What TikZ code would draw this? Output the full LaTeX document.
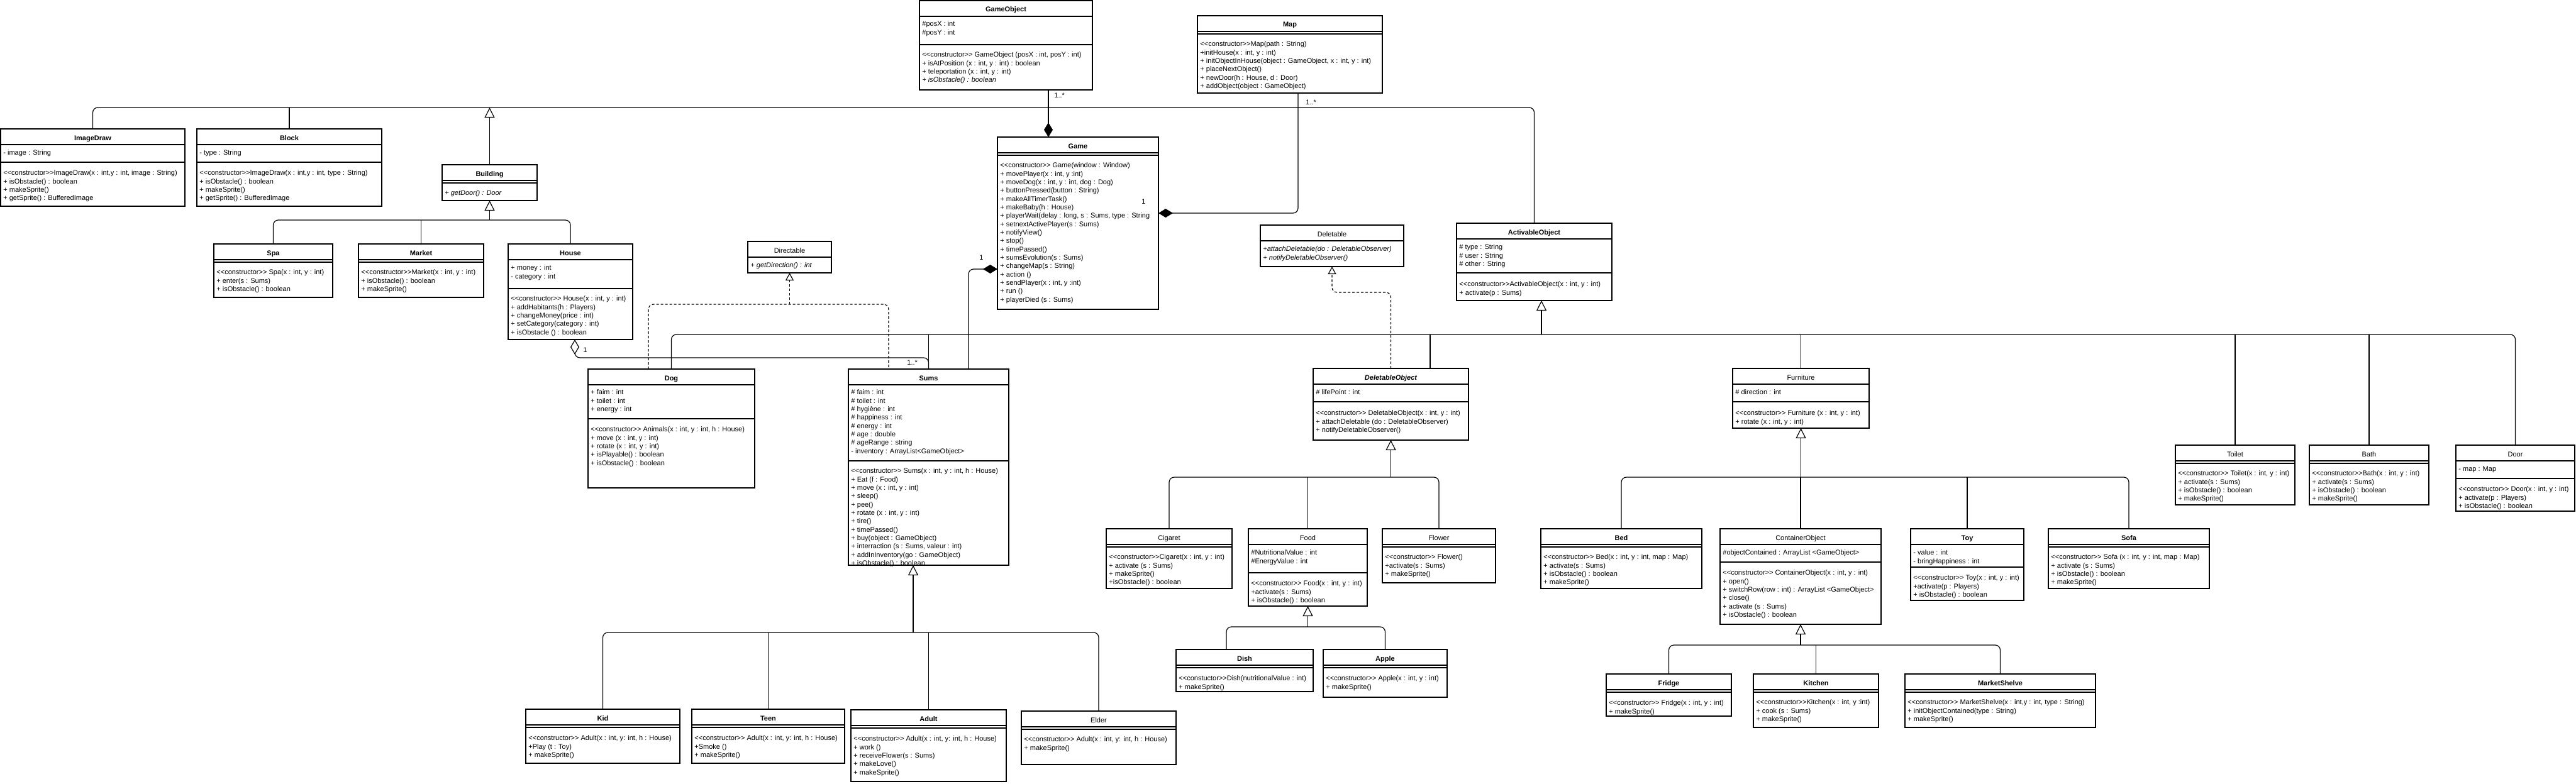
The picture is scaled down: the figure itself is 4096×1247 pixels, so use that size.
\documentclass[tikz,border=0pt]{standalone}
\usepackage{fontspec}
\setmainfont{Liberation Sans}
\usetikzlibrary{arrows.meta}
\newcommand\ctor{<\kern0pt<constructor>\kern0pt>}
\newcommand\dv[2]{\draw[divst] ([yshift={-(#2)*0.5pt}]#1.north west) -- ([yshift={-(#2)*0.5pt}]#1.north east);}
\newcommand\dd[1]{\dv{#1}{29}}
\newcommand\ubox[6]{%
  \node[boxst, minimum width={(#4-#2)*0.5pt}, minimum height={(#5-#3)*0.5pt}] (#1) at (#2,#3) {};
  \node[ttl] (#1-t) at ({(#2+#4)/2},{#3+18}) {#6};
  \dv{#1}{25}}
\tikzset{
  boxst/.style={draw, line width=0.8pt, anchor=north west, inner sep=0pt, outer sep=0pt, fill=white},
  divst/.style={line width=0.8pt},
  ttl/.style={anchor=base, inner sep=0pt, font=\bfseries\fontsize{5.5pt}{6.67pt}\selectfont},
  txt/.style={anchor=north west, inner sep=0pt, align=left, font=\fontsize{5.5pt}{6.67pt}\selectfont},
  lbl/.style={anchor=west, inner sep=0pt, font=\fontsize{5.5pt}{6.67pt}\selectfont},
  conn/.style={line width=0.6pt, rounded corners=4pt},
  inh/.style={conn, -{Triangle[open, length=8pt, width=8pt, fill=white]}},
  real/.style={conn, dash pattern=on 2pt off 1.5pt, -{Triangle[open, length=6pt, width=6.5pt, fill=white]}},
  dashln/.style={conn, dash pattern=on 2pt off 1.5pt},
  comp/.style={conn, -{Diamond[length=11.5pt, width=7pt]}},
  aggr/.style={conn, {Diamond[open, length=12pt, width=7pt, fill=white]}-},
}
\begin{document}
\begin{tikzpicture}[x=0.5pt, y=-0.5pt]
\useasboundingbox[fill=white] (0,0) rectangle (4096,1247);
% helper coordinates
\coordinate (yA) at (0,171);
\coordinate (yB) at (0,532);
\coordinate (yC) at (0,759);
\coordinate (yE) at (0,997);
\coordinate (yF) at (0,1026);
\coordinate (yG) at (0,1006);
\coordinate (yH) at (0,350);
\coordinate (yHS) at (0,569);
\coordinate (yD1) at (0,484);
\coordinate (yD2) at (0,465);
\coordinate (yGM) at (0,339);
\coordinate (ySG) at (0,428);
\coordinate (x1667) at (1667,0);
\coordinate (x2064) at (2064,0);
\coordinate (x1540) at (1540,0);
\coordinate (x914) at (914,0);
\coordinate (x1031) at (1031,0);
\coordinate (x1413) at (1413,0);
\coordinate (x2274) at (2274,0);
\coordinate (x2451) at (2451,0);
\coordinate (x1452) at (1452,0);
\coordinate (x1950) at (1950,0);

% ================= classes =================
% ImageDraw
\ubox{imagedraw}{1}{205}{294}{328}{ImageDraw}
\dv{imagedraw}{53}
\node[txt] (imagedraw-a) at (5,237) {\strut- image : String};
\node[txt] (imagedraw-m) at (5,269) {\strut\ctor ImageDraw(x : int,y : int, image : String)\\+ isObstacle() : boolean\\+ makeSprite()\\+ getSprite() : BufferedImage};
% Block
\ubox{block}{313}{205}{607}{328}{Block}
\dv{block}{53}
\node[txt] (block-a) at (317,237) {\strut- type : String};
\node[txt] (block-m) at (317,269) {\strut\ctor ImageDraw(x : int,y : int, type : String)\\+ isObstacle() : boolean\\+ makeSprite()\\+ getSprite() : BufferedImage};
% Building
\ubox{building}{703}{262}{854}{319}{Building}
\dd{building}
\node[txt] (building-m) at (707,301) {\strut\itshape + getDoor() : Door};
% Spa
\ubox{spa}{340}{388}{529}{473}{Spa}
\dd{spa}
\node[txt] (spa-m) at (344,427) {\strut\ctor{} Spa(x : int, y : int)\\+ enter(s : Sums)\\+ isObstacle() : boolean};
% Market
\ubox{market}{570}{388}{769}{473}{Market}
\dd{market}
\node[txt] (market-m) at (574,427) {\strut\ctor Market(x : int, y : int)\\+ isObstacle() : boolean\\+ makeSprite()};
% House
\ubox{house}{808}{388}{1006}{540}{House}
\dv{house}{71}
\node[txt] (house-a) at (812,420) {\strut+ money : int\\- category : int};
\node[txt] (house-m) at (812,469) {\strut\ctor{} House(x : int, y : int)\\+ addHabitants(h : Players)\\+ changeMoney(price : int)\\+ setCategory(category : int)\\+ isObstacle () : boolean};
% GameObject
\ubox{gameobject}{1462}{1}{1737}{143}{GameObject}
\dv{gameobject}{70}
\node[txt] (gameobject-a) at (1466,32) {\strut\#posX : int\\\#posY : int};
\node[txt] (gameobject-m) at (1466,81) {\strut\ctor{} GameObject (posX : int, posY : int)\\+ isAtPosition (x : int, y : int) : boolean\\+ teleportation (x : int, y : int)\\\textit{+ isObstacle() : boolean}};
% Map
\ubox{map}{1904}{25}{2198}{148}{Map}
\dd{map}
\node[txt] (map-m) at (1908,64) {\strut\ctor Map(path : String)\\+initHouse(x : int, y : int)\\+ initObjectInHouse(object : GameObject, x : int, y : int)\\+ placeNextObject()\\+ newDoor(h : House, d : Door)\\+ addObject(object : GameObject)};
% Game
\ubox{game}{1586}{218}{1842}{492}{Game}
\dd{game}
\node[txt] (game-m) at (1590,257) {\strut\ctor{} Game(window : Window)\\+ movePlayer(x : int, y :int)\\+ moveDog(x : int, y : int, dog : Dog)\\+ buttonPressed(button : String)\\+ makeAllTimerTask()\\+ makeBaby(h : House)\\+ playerWait(delay : long, s : Sums, type : String\\+ setnextActivePlayer(s : Sums)\\+ notifyView()\\+ stop()\\+ timePassed()\\+ sumsEvolution(s : Sums)\\+ changeMap(s : String)\\+ action ()\\+ sendPlayer(x : int, y :int)\\+ run ()\\+ playerDied (s : Sums)};
% Directable
\ubox{directable}{1189}{384}{1322}{434}{\mdseries Directable}
\node[txt] (directable-m) at (1193,416) {\strut\itshape + getDirection() : int};
% Deletable
\ubox{deletable}{2004}{358}{2232}{424}{\mdseries Deletable}
\node[txt] (deletable-m) at (2008,390) {\strut\itshape +attachDeletable(do : DeletableObserver)\\\itshape + notifyDeletableObserver()};
% ActivableObject
\ubox{activable}{2316}{355}{2563}{478}{ActivableObject}
\dv{activable}{79}
\node[txt] (activable-a) at (2320,387) {\strut\# type : String\\\# user : String\\\# other : String};
\node[txt] (activable-m) at (2320,446) {\strut\ctor ActivableObject(x : int, y : int)\\+ activate(p : Sums)};
% Dog
\ubox{dog}{935}{587}{1200}{776}{Dog}
\dv{dog}{79}
\node[txt] (dog-a) at (939,618) {\strut+ faim : int\\+ toilet : int\\+ energy : int};
\node[txt] (dog-m) at (939,677) {\strut\ctor{} Animals(x : int, y : int, h : House)\\+ move (x : int, y : int)\\+ rotate (x : int, y : int)\\+ isPlayable() : boolean\\+ isObstacle() : boolean};
% Sums
\ubox{sums}{1349}{587}{1604}{899}{Sums}
\dv{sums}{146}
\node[txt] (sums-a) at (1353,618) {\strut\# faim : int\\\# toilet : int\\\# hygiène : int\\\# happiness : int\\\# energy : int\\\# age : double\\\# ageRange : string\\- inventory : ArrayList<GameObject>};
\node[txt] (sums-m) at (1353,743) {\strut\ctor{} Sums(x : int, y : int, h : House)\\+ Eat (f : Food)\\+ move (x : int, y : int)\\+ sleep()\\+ pee()\\+ rotate (x : int, y : int)\\+ tire()\\+ timePassed()\\+ buy(object : GameObject)\\+ interraction (s : Sums, valeur : int)\\+ addInInventory(go : GameObject)\\+ isObstacle() : boolean};
% DeletableObject
\ubox{deletableobject}{2088}{586}{2335}{700}{\itshape DeletableObject}
\dv{deletableobject}{53}
\node[txt] (deletableobject-a) at (2092,618) {\strut\# lifePoint : int};
\node[txt] (deletableobject-m) at (2092,651) {\strut\ctor{} DeletableObject(x : int, y : int)\\+ attachDeletable (do : DeletableObserver)\\+ notifyDeletableObserver()};
% Furniture
\ubox{furniture}{2755}{586}{2972}{681}{\mdseries Furniture}
\dv{furniture}{53}
\node[txt] (furniture-a) at (2759,618) {\strut\# direction : int};
\node[txt] (furniture-m) at (2759,651) {\strut\ctor{} Furniture (x : int, y : int)\\+ rotate (x : int, y : int)};
% Toilet
\ubox{toilet}{3459}{708}{3649}{803}{\mdseries Toilet}
\dd{toilet}
\node[txt] (toilet-m) at (3463,747) {\strut\ctor{} Toilet(x : int, y : int)\\+ activate(s : Sums)\\+ isObstacle() : boolean\\+ makeSprite()};
% Bath
\ubox{bath}{3672}{708}{3862}{803}{\mdseries Bath}
\dd{bath}
\node[txt] (bath-m) at (3676,747) {\strut\ctor Bath(x : int, y : int)\\+ activate(s : Sums)\\+ isObstacle() : boolean\\+ makeSprite()};
% Door
\ubox{door}{3905}{708}{4094}{813}{\mdseries Door}
\dv{door}{53}
\node[txt] (door-a) at (3909,740) {\strut- map : Map};
\node[txt] (door-m) at (3909,772) {\strut\ctor{} Door(x : int, y : int)\\+ activate(p : Players)\\+ isObstacle() : boolean};
% Cigaret
\ubox{cigaret}{1759}{841}{1959}{936}{\mdseries Cigaret}
\dd{cigaret}
\node[txt] (cigaret-m) at (1763,880) {\strut\ctor Cigaret(x : int, y : int)\\+ activate (s : Sums)\\+ makeSprite()\\+isObstacle() : boolean};
% Food
\ubox{food}{1985}{841}{2174}{964}{\mdseries Food}
\dv{food}{70}
\node[txt] (food-a) at (1989,873) {\strut\#NutritionalValue : int\\\#EnergyValue : int};
\node[txt] (food-m) at (1989,922) {\strut\ctor{} Food(x : int, y : int)\\+activate(s : Sums)\\+ isObstacle() : boolean};
% Flower
\ubox{flower}{2198}{841}{2378}{927}{\mdseries Flower}
\dd{flower}
\node[txt] (flower-m) at (2202,880) {\strut\ctor{} Flower()\\+activate(s : Sums)\\+ makeSprite()};
% Bed
\ubox{bed}{2450}{841}{2706}{936}{Bed}
\dd{bed}
\node[txt] (bed-m) at (2454,880) {\strut\ctor{} Bed(x : int, y : int, map : Map)\\+ activate(s : Sums)\\+ isObstacle() : boolean\\+ makeSprite()};
% ContainerObject
\ubox{container}{2735}{841}{2991}{993}{\mdseries ContainerObject}
\dv{container}{53}
\node[txt] (container-a) at (2739,873) {\strut\#objectContained : ArrayList <GameObject>};
\node[txt] (container-m) at (2739,905) {\strut\ctor{} ContainerObject(x : int, y : int)\\+ open()\\+ switchRow(row : int) : ArrayList <GameObject>\\+ close()\\+ activate (s : Sums)\\+ isObstacle() : boolean};
% Toy
\ubox{toy}{3038}{841}{3218}{955}{Toy}
\dv{toy}{61}
\node[txt] (toy-a) at (3042,873) {\strut- value : int\\- bringHappiness : int};
\node[txt] (toy-m) at (3042,913) {\strut\ctor{} Toy(x : int, y : int)\\+activate(p : Players)\\+ isObstacle() : boolean};
% Sofa
\ubox{sofa}{3257}{841}{3513}{936}{Sofa}
\dd{sofa}
\node[txt] (sofa-m) at (3261,880) {\strut\ctor{} Sofa (x : int, y : int, map : Map)\\+ activate (s : Sums)\\+ isObstacle() : boolean\\+ makeSprite()};
% Dish
\ubox{dish}{1870}{1033}{2088}{1100}{Dish}
\dd{dish}
\node[txt] (dish-m) at (1874,1073) {\strut<\kern0pt<constuctor>\kern0pt>Dish(nutritionalValue : int)\\+ makeSprite()};
% Apple
\ubox{apple}{2104}{1033}{2301}{1109}{Apple}
\dd{apple}
\node[txt] (apple-m) at (2108,1073) {\strut\ctor{} Apple(x : int, y : int)\\+ makeSprite()};
% Fridge
\ubox{fridge}{2554}{1072}{2753}{1139}{Fridge}
\dd{fridge}
\node[txt] (fridge-m) at (2558,1112) {\strut\ctor{} Fridge(x : int, y : int)\\+ makeSprite()};
% Kitchen
\ubox{kitchen}{2788}{1072}{2987}{1157}{Kitchen}
\dd{kitchen}
\node[txt] (kitchen-m) at (2792,1111) {\strut\ctor Kitchen(x : int, y :int)\\+ cook (s : Sums)\\+ makeSprite()};
% MarketShelve
\ubox{marketshelve}{3029}{1072}{3332}{1157}{MarketShelve}
\dd{marketshelve}
\node[txt] (marketshelve-m) at (3033,1111) {\strut\ctor{} MarketShelve(x : int,y : int, type : String)\\+ initObjectContained(type : String)\\+ makeSprite()};
% Kid
\ubox{kid}{836}{1128}{1081}{1214}{Kid}
\dd{kid}
\node[txt] (kid-m) at (840,1168) {\strut\ctor{} Adult(x : int, y: int, h : House)\\+Play (t : Toy)\\+ makeSprite()};
% Teen
\ubox{teen}{1100}{1128}{1343}{1214}{Teen}
\dd{teen}
\node[txt] (teen-m) at (1104,1168) {\strut\ctor{} Adult(x : int, y: int, h : House)\\+Smoke ()\\+ makeSprite()};
% Adult
\ubox{adult}{1353}{1129}{1600}{1243}{Adult}
\dd{adult}
\node[txt] (adult-m) at (1357,1169) {\strut\ctor{} Adult(x : int, y: int, h : House)\\+ work ()\\+ receiveFlower(s : Sums)\\+ makeLove()\\+ makeSprite()};
% Elder
\ubox{elder}{1624}{1131}{1870}{1216}{\mdseries Elder}
\dd{elder}
\node[txt] (elder-m) at (1628,1170) {\strut\ctor{} Adult(x : int, y: int, h : House)\\+ makeSprite()};

% ================= connectors =================
% bus A : children of GameObject (top)
\draw[conn] (imagedraw.north) -- (imagedraw.north |- yA) -- (activable.north |- yA) -- (activable.north);
\draw[conn] (block.north) -- (block.north |- yA);
\draw[inh] (building.north) -- (building.north |- yA);
% GameObject composed in Game
\draw[comp] (x1667 |- gameobject.south) -- (x1667 |- game.north);
\node[lbl] (l1) at (1676,152) {1..*};
% Map composed in Game
\draw[conn, {Diamond[length=11.5pt, width=7pt]}-] (game.east |- yGM) -- (x2064 |- yGM) -- (x2064 |- map.south);
\node[lbl] (l2) at (1815,321) {1};
\node[lbl] (l3) at (2076,163) {1..*};
% Sums composed in Game
\draw[comp] (x1540 |- sums.north) -- (x1540 |- ySG) -- (game.west |- ySG);
\node[lbl] (l4) at (1557,410) {1};
% Building children
\draw[conn] (spa.north) -- (spa.north |- yH) -- (house.north |- yH) -- (house.north);
\draw[conn] (market.north) -- (market.north |- yH);
\draw[inh] (building.south |- yH) -- (building.south);
% House aggregates Sums
\draw[aggr] (x914 |- house.south) -- (x914 |- yHS) -- (sums.north |- yHS) -- (sums.north);
\node[lbl] (l5) at (927,557) {1};
\node[lbl] (l6) at (1442,577) {1..*};
% Directable realization
\draw[dashln] (x1031 |- dog.north) -- (x1031 |- yD1) -- (x1413 |- yD1) -- (x1413 |- sums.north);
\draw[real] (directable.south |- yD1) -- (directable.south);
% bus B : children of ActivableObject
\draw[conn] (dog.north) -- (dog.north |- yB) -- (door.north |- yB) -- (door.north);
\draw[conn] (sums.north) -- (sums.north |- yB);
\draw[conn] (x2274 |- deletableobject.north) -- (x2274 |- yB);
\draw[conn] (furniture.north) -- (furniture.north |- yB);
\draw[conn] (toilet.north) -- (toilet.north |- yB);
\draw[conn] (bath.north) -- (bath.north |- yB);
\draw[inh] (x2451 |- yB) -- (x2451 |- activable.south);
% Deletable realization
\draw[real] (deletableobject.north) -- (deletableobject.north |- yD2) -- (deletable.south |- yD2) -- (deletable.south);
% bus C : children of DeletableObject
\draw[conn] (cigaret.north) -- (cigaret.north |- yC) -- (flower.north |- yC) -- (flower.north);
\draw[conn] (food.north) -- (food.north |- yC);
\draw[inh] (deletableobject.south |- yC) -- (deletableobject.south);
% bus D : children of Furniture
\draw[conn] (bed.north) -- (bed.north |- yC) -- (sofa.north |- yC) -- (sofa.north);
\draw[conn] (container.north) -- (container.north |- yC);
\draw[conn] (toy.north) -- (toy.north |- yC);
\draw[inh] (furniture.south |- yC) -- (furniture.south);
% bus E : children of Food
\draw[conn] (x1950 |- dish.north) -- (x1950 |- yE) -- (apple.north |- yE) -- (apple.north);
\draw[inh] (food.south |- yE) -- (food.south);
% bus F : children of ContainerObject
\draw[conn] (fridge.north) -- (fridge.north |- yF) -- (marketshelve.north |- yF) -- (marketshelve.north);
\draw[conn] (kitchen.north) -- (kitchen.north |- yF);
\draw[inh] (container.south |- yF) -- (container.south);
% bus G : children of Sums
\draw[conn] (kid.north) -- (kid.north |- yG) -- (elder.north |- yG) -- (elder.north);
\draw[conn] (teen.north) -- (teen.north |- yG);
\draw[conn] (adult.north) -- (adult.north |- yG);
\draw[inh] (x1452 |- yG) -- (x1452 |- sums.south);
\end{tikzpicture}
\end{document}
